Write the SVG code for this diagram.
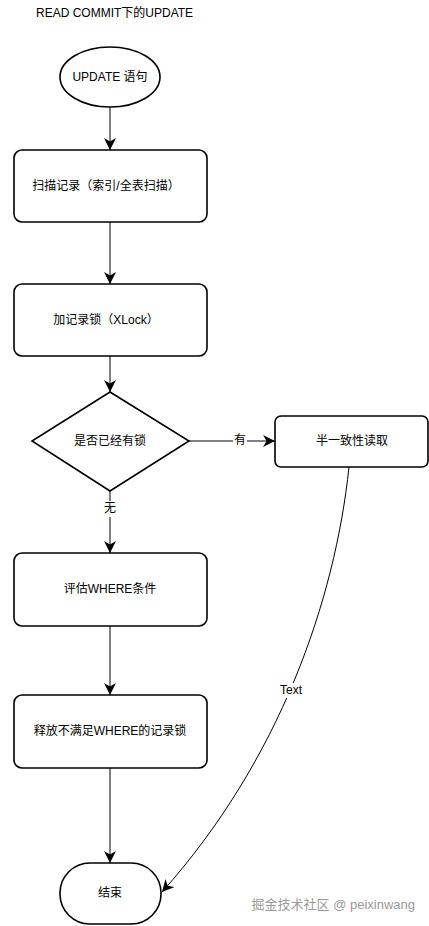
<svg xmlns="http://www.w3.org/2000/svg" width="429" height="926" viewBox="0 0 429 926">
<style>
.n{fill:#fff;stroke:#000;stroke-width:1.6}
.t{font-family:"Liberation Sans","Noto Sans CJK SC",sans-serif;font-size:12px;fill:#000;text-anchor:middle;dominant-baseline:central}
.c{fill:none;stroke:#000;stroke-width:1}
.lb{fill:#fff}
</style>
<defs>
<marker id="ah" markerUnits="userSpaceOnUse" markerWidth="12" markerHeight="12" viewBox="0 0 10 10" refX="10" refY="5" orient="auto">
<path d="M0,0 L10,5 L0,10 L3,5 z" fill="#000"/>
</marker>
</defs>
<rect width="429" height="926" fill="#fff"/>
<text x="36" y="17" font-family="Liberation Sans,Noto Sans CJK SC,sans-serif" font-size="12">READ COMMIT下的UPDATE</text>
<g id="connectors">
<line class="c" x1="110" y1="107" x2="110" y2="150" marker-end="url(#ah)"/>
<line class="c" x1="110" y1="222" x2="110" y2="284" marker-end="url(#ah)"/>
<line class="c" x1="110" y1="356" x2="110" y2="392" marker-end="url(#ah)"/>
<line class="c" x1="110" y1="491" x2="110" y2="553" marker-end="url(#ah)"/>
<line class="c" x1="110" y1="626" x2="110" y2="695" marker-end="url(#ah)"/>
<line class="c" x1="110" y1="768" x2="110" y2="863" marker-end="url(#ah)"/>
<line class="c" x1="189" y1="441" x2="275" y2="441" marker-end="url(#ah)"/>
<path class="c" d="M349,467 C335,600 280,760 162,892" marker-end="url(#ah)"/>
<rect class="lb" x="233" y="433" width="14" height="16"/>
<text class="t" x="240" y="440">有</text>
<rect class="lb" x="103" y="501" width="14" height="16"/>
<text class="t" x="110" y="508">无</text>
<rect class="lb" x="278" y="683" width="27" height="15"/>
<text class="t" x="291" y="690">Text</text>
</g>
<g id="start">
<ellipse class="n" cx="110" cy="77" rx="50" ry="30"/>
<text class="t" x="110" y="77">UPDATE 语句</text>
</g>
<g id="scan">
<rect class="n" x="14" y="150" width="193" height="72" rx="8"/>
<text class="t" x="106" y="186">扫描记录（索引/全表扫描）</text>
</g>
<g id="lock">
<rect class="n" x="14" y="284" width="193" height="72" rx="8"/>
<text class="t" x="106" y="320">加记录锁（XLock）</text>
</g>
<g id="check">
<path class="n" d="M110,392 L189,441 L110,491 L32,441 Z"/>
<text class="t" x="110" y="441">是否已经有锁</text>
</g>
<g id="semi">
<rect class="n" x="275" y="416" width="153" height="51" rx="6"/>
<text class="t" x="352" y="441">半一致性读取</text>
</g>
<g id="eval">
<rect class="n" x="14" y="553" width="193" height="73" rx="8"/>
<text class="t" x="110" y="589">评估WHERE条件</text>
</g>
<g id="release">
<rect class="n" x="14" y="695" width="193" height="73" rx="8"/>
<text class="t" x="110" y="731">释放不满足WHERE的记录锁</text>
</g>
<g id="end">
<rect class="n" x="60" y="863" width="101" height="61" rx="30" ry="30"/>
<text class="t" x="110" y="893">结束</text>
</g>
<text x="415" y="904" font-family="Liberation Sans,Noto Sans CJK SC,sans-serif" font-size="13" fill="#9a9a9a" text-anchor="end" dominant-baseline="central">掘金技术社区 @ peixinwang</text>
</svg>
